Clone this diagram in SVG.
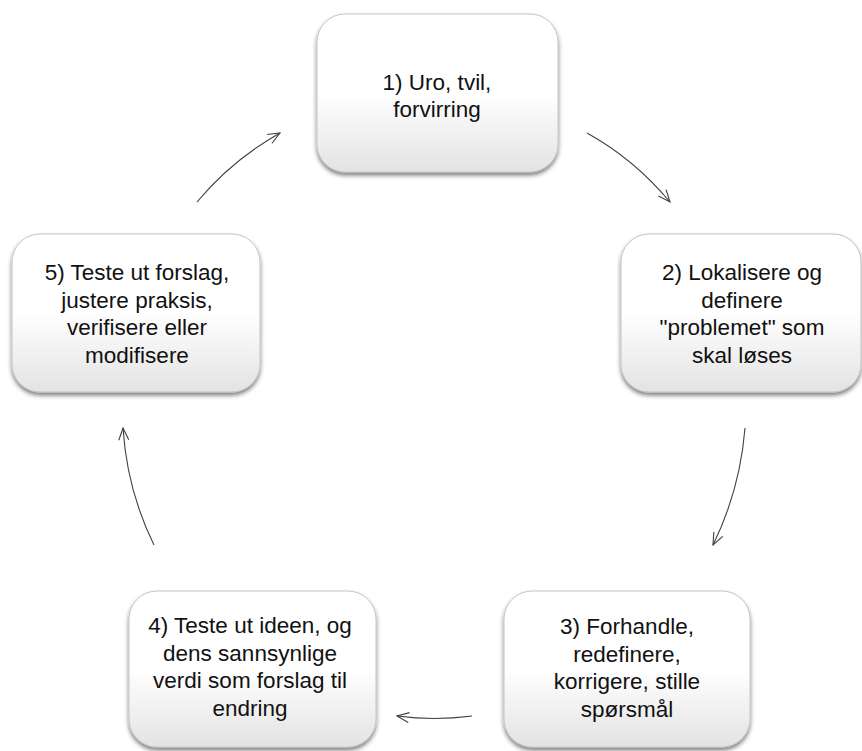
<svg xmlns="http://www.w3.org/2000/svg" width="862" height="751" viewBox="0 0 862 751">
<defs>
<linearGradient id="boxGrad" x1="0" y1="0" x2="0" y2="1">
<stop offset="0" stop-color="#ffffff"/>
<stop offset="0.5" stop-color="#ffffff"/>
<stop offset="1" stop-color="#e3e3e3"/>
</linearGradient>
<filter id="shadow" x="-10%" y="-10%" width="120%" height="125%">
<feDropShadow dx="0" dy="3" stdDeviation="2.2" flood-color="#000000" flood-opacity="0.5"/>
</filter>
<marker id="arrow" viewBox="0 0 14 12" refX="13" refY="6" markerWidth="14" markerHeight="12" markerUnits="userSpaceOnUse" orient="auto">
<path d="M1,1 L13,6 L1,11" fill="none" stroke="#404040" stroke-width="1.1"/>
</marker>
</defs>
<style>
.box { fill: url(#boxGrad); stroke: #c4c4c4; stroke-width: 1; filter: url(#shadow); }
.lbl { font-family: "Liberation Sans", Arial, sans-serif; font-size: 22.5px; fill: #111111; text-anchor: middle; }
.conn { fill: none; stroke: #404040; stroke-width: 1.1; marker-end: url(#arrow); }
</style>
<rect width="862" height="751" fill="#ffffff"/>
<g id="connectors">
<path class="conn" d="M587,133 Q634,159 670,202"/>
<path class="conn" d="M745,428 Q740,490 713,545"/>
<path class="conn" d="M472,716 Q434,721 397,716"/>
<path class="conn" d="M154,545 Q127,490 123,428"/>
<path class="conn" d="M197,202 Q232,160 280,133"/>
</g>
<g id="node1">
<rect class="box" x="317" y="14" width="241" height="158" rx="28"/>
<text class="lbl" x="437" y="90">1) Uro, tvil,</text>
<text class="lbl" x="437" y="117">forvirring</text>
</g>
<g id="node2">
<rect class="box" x="621" y="234" width="240" height="158" rx="28"/>
<text class="lbl" x="742" y="280">2) Lokalisere og</text>
<text class="lbl" x="742" y="307.5">definere</text>
<text class="lbl" x="742" y="335">"problemet" som</text>
<text class="lbl" x="742" y="362.5">skal løses</text>
</g>
<g id="node3">
<rect class="box" x="504" y="591" width="246" height="156" rx="28"/>
<text class="lbl" x="627" y="634">3) Forhandle,</text>
<text class="lbl" x="627" y="661.5">redefinere,</text>
<text class="lbl" x="627" y="689">korrigere, stille</text>
<text class="lbl" x="627" y="716.5">spørsmål</text>
</g>
<g id="node4">
<rect class="box" x="129" y="591" width="247" height="156" rx="28"/>
<text class="lbl" x="250" y="633">4) Teste ut ideen, og</text>
<text class="lbl" x="250" y="660.5">dens sannsynlige</text>
<text class="lbl" x="250" y="688">verdi som forslag til</text>
<text class="lbl" x="250" y="715.5">endring</text>
</g>
<g id="node5">
<rect class="box" x="12" y="234" width="248" height="158" rx="28"/>
<text class="lbl" x="137" y="280">5) Teste ut forslag,</text>
<text class="lbl" x="137" y="307.5">justere praksis,</text>
<text class="lbl" x="137" y="335">verifisere eller</text>
<text class="lbl" x="137" y="362.5">modifisere</text>
</g>
</svg>
